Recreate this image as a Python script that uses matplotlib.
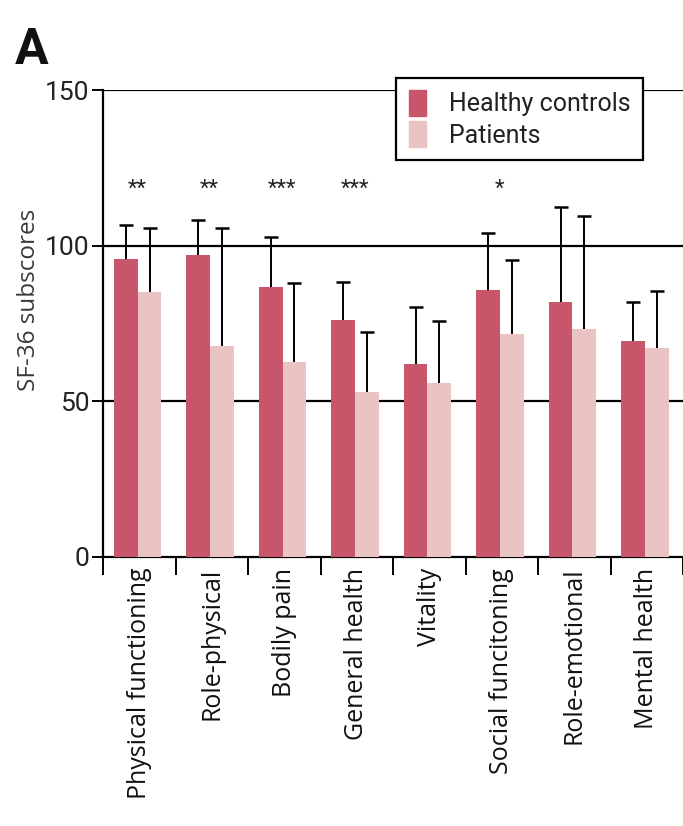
import numpy as np
import matplotlib
import matplotlib.pyplot as plt
from matplotlib.patches import Patch

matplotlib.use("Agg")

# SF-36 subscale means and upper SD for each group
categories = ["Physical functioning", "Role-physical", "Bodily pain", "General health",
              "Vitality", "Social funcitoning", "Role-emotional", "Mental health"]
healthy_mean = [95.6, 97.1, 86.6, 76.1, 61.8, 85.8, 82.0, 69.3]
healthy_sd = [11.0, 11.0, 16.2, 12.3, 18.5, 18.4, 30.5, 12.6]
patient_mean = [85.1, 67.8, 62.5, 52.8, 55.8, 71.5, 73.1, 67.1]
patient_sd = [20.5, 37.8, 25.5, 19.4, 20.1, 23.8, 36.4, 18.3]
stars = ["**", "**", "***", "***", "", "*", "", ""]

healthy_color = "#C8566A"
patient_color = "#EAC3C3"
narrow = ["Roboto", "DejaVu Sans"]
body = ["Open Sans", "DejaVu Sans"]

fig = plt.figure(figsize=(6.83, 8.26), dpi=100)
ax = fig.add_axes([0.151, 0.326, 0.849, 0.565])

x = np.arange(len(categories))
w = 0.33


def upper_bars(xs, mean, sd):
    # stem from bar top to mean + sd, with a cap only at the top
    top = np.asarray(mean) + np.asarray(sd)
    ax.vlines(xs, mean, top, color="black", lw=1.4, zorder=4)
    ax.plot(xs, top, ls="none", marker="_", ms=10, mew=1.8, color="black", zorder=4)


ax.bar(x - 0.19, healthy_mean, w, color=healthy_color, zorder=3)
ax.bar(x + 0.14, patient_mean, w, color=patient_color, zorder=3)
upper_bars(x - 0.19, healthy_mean, healthy_sd)
upper_bars(x + 0.14, patient_mean, patient_sd)

for xi, s in zip(x, stars):
    if s:
        ax.text(xi - 0.03, 118, s, ha="center", va="center", fontsize=16,
                color="#222222", family=narrow)

ax.set_xlim(-0.5, 7.5)
ax.set_ylim(0, 150)
ax.set_yticks([0, 50, 100, 150])
for v in (50, 100, 150):
    ax.axhline(v, color="black", lw=1.6, zorder=1)

ax.set_xticks(np.arange(-0.5, 8, 1), minor=False)
ax.set_xticklabels([])
ax.set_xticks(x, minor=True)
ax.set_xticklabels(categories, minor=True, rotation=90, fontsize=18,
                   family=body, color="#111111", va="top")
ax.tick_params(axis="x", which="major", direction="out", length=13, width=1.4)
ax.tick_params(axis="x", which="minor", length=0, pad=8)
ax.tick_params(axis="y", direction="out", length=8, width=1.4, pad=2)
for lab in ax.get_yticklabels():
    lab.set_family(narrow)
    lab.set_fontsize(19)
    lab.set_color("#222222")

for side in ("top", "right"):
    ax.spines[side].set_visible(False)
for side in ("left", "bottom"):
    ax.spines[side].set_linewidth(1.6)

ax.set_ylabel("SF-36 subscores", fontsize=17.5, family=body, color="#3a3a3a")
ax.yaxis.set_label_coords(-0.108, 0.55)

handles = [Patch(color=healthy_color, label="Healthy controls"),
           Patch(color=patient_color, label="Patients")]
leg = fig.legend(handles=handles, loc="upper right", bbox_to_anchor=(0.941, 0.906),
                 frameon=True, fancybox=False, framealpha=1, edgecolor="black",
                 prop={"family": narrow, "size": 18}, handlelength=0.7, handleheight=1.2,
                 handletextpad=0.9, labelspacing=0.2, borderpad=0.5, borderaxespad=0)
leg.get_frame().set_linewidth(1.6)
for t in leg.get_texts():
    t.set_color("#222222")

fig.text(0.022, 0.923, "A", fontsize=36, fontweight="bold", family=narrow, color="#111111")

fig.savefig("out.png", dpi=100)
